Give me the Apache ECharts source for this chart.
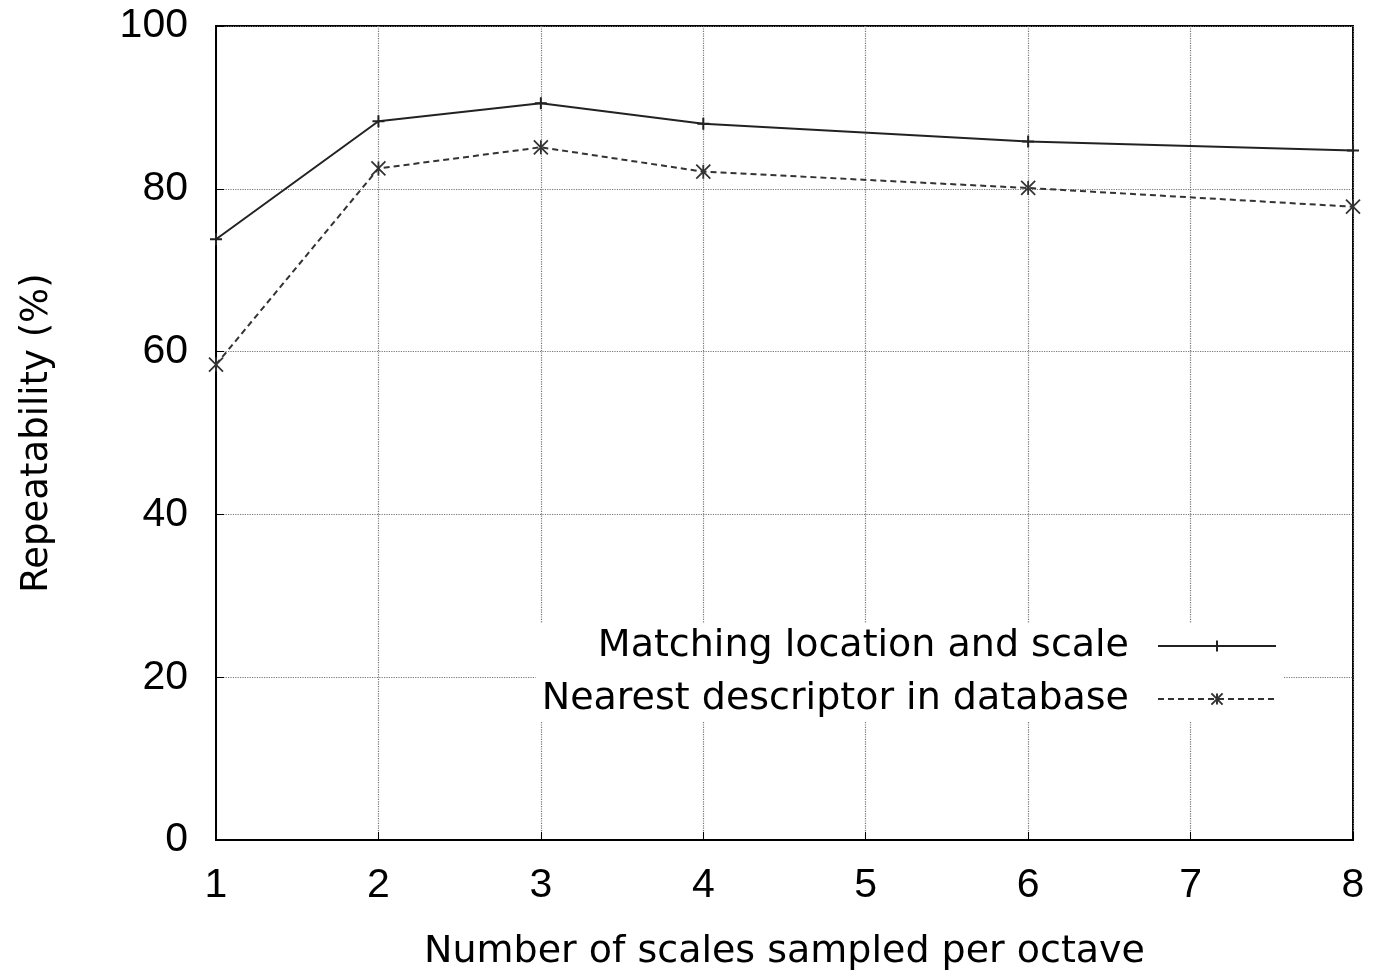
<!DOCTYPE html>
<html>
<head>
<meta charset="utf-8">
<script src="https://cdn.jsdelivr.net/npm/echarts@6/dist/echarts.min.js"></script>
<style>html,body{margin:0;padding:0;background:#fff}#c{width:1376px;height:976px}</style>
</head>
<body>
<div id="c"></div>
<script>
var scales = [1, 2, 3, 4, 6, 8];
var matchingLocScale = [73.8, 88.3, 90.5, 88.0, 85.8, 84.7];
var nearestDescriptor = [58.4, 82.5, 85.1, 82.1, 80.1, 77.8];
var seriesNames = ['Matching location and scale', 'Nearest descriptor in database'];
var xTitle = 'Number of scales sampled per octave';
var yTitle = 'Repeatability (%)';

function pairs(xs, ys){ return xs.map(function(x,i){ return [x, ys[i]]; }); }

var tickFont = 'Liberation Sans, Arial, Helvetica, sans-serif';
var textFont = 'DejaVu Sans, Verdana, sans-serif';
var chart = echarts.init(document.getElementById('c'));
chart.setOption({
  animation: false,
  backgroundColor: '#fff',
  grid: { left: 216, right: 23, top: 26, bottom: 129, show: true, borderColor: '#000', borderWidth: 2, backgroundColor: 'transparent' },
  legend: {
    right: 93, top: 623, orient: 'vertical', align: 'right',
    itemWidth: 118, itemHeight: 14, itemGap: 15,
    backgroundColor: '#fff', padding: [4, 6, 4, 6],
    textStyle: { fontFamily: textFont, fontSize: 38, color: '#000', padding: [0, 24, 0, 0] },
    data: seriesNames
  },
  xAxis: {
    type: 'value', min: 1, max: 8, interval: 1,
    name: xTitle, nameLocation: 'middle', nameGap: 93,
    nameTextStyle: { fontFamily: textFont, fontSize: 38, color: '#000' },
    axisLine: { lineStyle: { color: '#000', width: 2 } },
    axisTick: { inside: true, length: 8, lineStyle: { color: '#000' } },
    axisLabel: { fontFamily: tickFont, fontSize: 41, color: '#000', margin: 25 },
    splitLine: { show: true, lineStyle: { type: 'dotted', color: '#777', width: 1.2 } }
  },
  yAxis: {
    type: 'value', min: 0, max: 100, interval: 20,
    name: yTitle, nameLocation: 'middle', nameGap: 160,
    nameTextStyle: { fontFamily: textFont, fontSize: 37, color: '#000' },
    axisLine: { lineStyle: { color: '#000', width: 2 } },
    axisTick: { inside: true, length: 8, lineStyle: { color: '#000' } },
    axisLabel: { fontFamily: tickFont, fontSize: 41, color: '#000', margin: 28 },
    splitLine: { show: true, lineStyle: { type: 'dotted', color: '#777', width: 1.2 } }
  },
  series: [
    {
      name: seriesNames[0], type: 'line', data: pairs(scales, matchingLocScale),
      symbol: 'path://M0 5 L10 5 M5 0 L5 10', symbolSize: 12, showAllSymbol: true,
      lineStyle: { color: '#222', width: 2 },
      itemStyle: { color: 'none', borderColor: '#222', borderWidth: 2 }
    },
    {
      name: seriesNames[1], type: 'line', data: pairs(scales, nearestDescriptor),
      symbol: 'path://M0 0 L10 10 M10 0 L0 10 M5 0 L5 10', symbolSize: 14, showAllSymbol: true,
      lineStyle: { color: '#333', width: 2, type: [6, 4] },
      itemStyle: { color: 'none', borderColor: '#333', borderWidth: 1.8 }
    }
  ]
});
</script>
</body>
</html>
